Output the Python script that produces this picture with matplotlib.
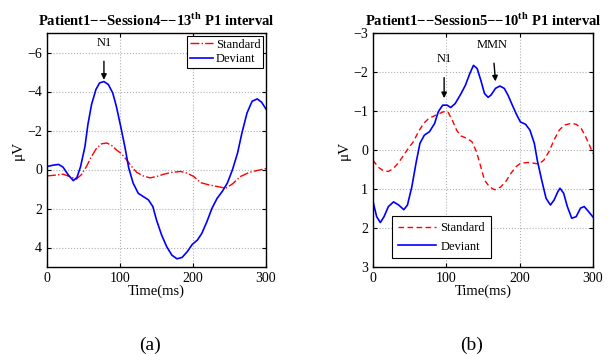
import matplotlib
matplotlib.use("Agg")
import matplotlib.pyplot as plt

plt.rcParams['font.family'] = ['Liberation Serif', 'DejaVu Serif']
plt.rcParams['mathtext.fontset'] = 'custom'
plt.rcParams['mathtext.rm'] = 'Liberation Serif'
plt.rcParams['mathtext.bf'] = 'Liberation Serif:bold'

# ---- panel (a) data: Patient1 Session4 ----
t_dev_a = [0, 8, 16, 22, 29, 36, 41, 46, 52, 56, 61, 67, 72, 78, 84, 90, 95,
           101, 107, 112, 118, 125, 132, 139, 145, 150, 157, 164, 171, 178,
           185, 192, 199, 206, 212, 219, 226, 233, 240, 247, 254, 261, 267,
           274, 281, 288, 294, 300]
v_dev_a = [-0.15, -0.22, -0.26, -0.12, 0.27, 0.57, 0.41, -0.15, -1.18, -2.3,
           -3.33, -4.1, -4.44, -4.51, -4.36, -3.93, -3.24, -2.2, -1.1, -0.07,
           0.7, 1.22, 1.39, 1.56, 1.9, 2.59, 3.36, 3.96, 4.39, 4.58, 4.51,
           4.22, 3.84, 3.62, 3.28, 2.68, 1.99, 1.48, 1.13, 0.7, 0.02, -0.84,
           -1.87, -2.9, -3.5, -3.62, -3.45, -3.1]
t_std_a = [0, 11, 22, 31, 40, 47, 54, 61, 68, 75, 82, 89, 95, 102, 109, 116,
           123, 132, 141, 150, 160, 171, 183, 192, 201, 210, 222, 233, 245,
           254, 265, 277, 288, 300]
v_std_a = [0.33, 0.29, 0.24, 0.36, 0.5, 0.27, -0.15, -0.67, -1.1, -1.32,
           -1.36, -1.22, -1.01, -0.81, -0.5, -0.15, 0.15, 0.33, 0.43, 0.36,
           0.24, 0.15, 0.1, 0.19, 0.36, 0.67, 0.79, 0.87, 0.96, 0.74, 0.36,
           0.15, 0.05, -0.05]

# ---- panel (b) data: Patient1 Session5 ----
t_dev_b = [0, 5, 10, 15, 21, 28, 35, 42, 47, 53, 59, 64, 70, 77, 84, 89, 95,
           101, 106, 112, 119, 126, 132, 137, 142, 147, 152, 157, 161, 167,
           173, 179, 184, 190, 196, 201, 208, 214, 220, 224, 230, 236, 242,
           247, 252, 255, 260, 265, 271, 277, 283, 288, 294, 300]
v_dev_b = [1.32, 1.71, 1.86, 1.71, 1.45, 1.33, 1.41, 1.53, 1.41, 0.94, 0.3,
           -0.17, -0.38, -0.47, -0.68, -0.98, -1.15, -1.15, -1.09, -1.19,
           -1.41, -1.66, -1.96, -2.17, -2.09, -1.79, -1.45, -1.35, -1.41,
           -1.58, -1.64, -1.58, -1.41, -1.15, -0.9, -0.72, -0.66, -0.51,
           -0.17, 0.26, 0.77, 1.24, 1.41, 1.28, 1.07, 0.98, 1.11, 1.45, 1.75,
           1.71, 1.49, 1.45, 1.58, 1.72]
t_std_b = [0, 7, 14, 21, 28, 35, 42, 48, 55, 62, 69, 76, 83, 89, 96, 102, 108,
           114, 120, 128, 135, 141, 147, 152, 159, 166, 174, 181, 188, 195,
           201, 211, 220, 226, 233, 240, 247, 254, 261, 270, 277, 284, 290,
           295, 300]
v_std_b = [0.26, 0.44, 0.53, 0.55, 0.47, 0.32, 0.13, -0.04, -0.21, -0.47,
           -0.68, -0.81, -0.87, -0.92, -0.98, -0.98, -0.77, -0.51, -0.36,
           -0.3, -0.21, 0.04, 0.43, 0.77, 0.95, 1.02, 0.95, 0.81, 0.6, 0.43,
           0.34, 0.32, 0.34, 0.36, 0.26, 0.04, -0.26, -0.51, -0.64, -0.68,
           -0.66, -0.55, -0.34, -0.13, 0.09]

fig = plt.figure(figsize=(6.15, 3.55), dpi=100)
W, H = 615, 355
ax1 = fig.add_axes([47 / W, 1 - 267 / H, 219 / W, 234 / H])
ax2 = fig.add_axes([373 / W, 1 - 267 / H, 220 / W, 234 / H])


def style(ax, ylim, yticks):
    ax.set_xlim(0, 300)
    ax.set_ylim(ylim[1], ylim[0])  # negative up
    ax.set_xticks([0, 100, 200, 300])
    ax.set_yticks(yticks)
    ax.grid(True, color='#b0b0b0', linestyle=':', linewidth=0.8)
    ax.tick_params(direction='in', labelsize=10, length=3, top=True, right=True)
    for s in ax.spines.values():
        s.set_linewidth(1.0)
    ax.set_xlabel('Time(ms)', fontsize=10.5, labelpad=0)
    ax.set_ylabel('μV', fontsize=11, labelpad=2)


arrow = dict(arrowstyle='-|>', color='black', lw=1.0, shrinkA=7, shrinkB=0,
             mutation_scale=8)

ax1.plot(t_std_a, v_std_a, color='red', linestyle='-.', linewidth=1.0, label='Standard')
ax1.plot(t_dev_a, v_dev_a, color='blue', linestyle='-', linewidth=1.2, label='Deviant')
style(ax1, (-7, 5), [-6, -4, -2, 0, 2, 4])
ax1.set_title('Patient1\u2212\u2212Session4\u2212\u221213$^{\\mathbf{th}}$ P1 interval',
              fontsize=10.5, fontweight='bold', pad=5)
ax1.annotate('N1', xy=(78, -4.6), xytext=(78, -6.5), ha='center', va='center',
             fontsize=9, arrowprops=arrow)
leg1 = ax1.legend(loc='upper right', fontsize=9, fancybox=False, edgecolor='black',
                  framealpha=1, borderpad=0.2, labelspacing=0.2, handlelength=1.9,
                  handletextpad=0.2, borderaxespad=0.25)
leg1.get_frame().set_linewidth(0.8)

ax2.plot(t_std_b, v_std_b, color='red', linestyle=(0, (4, 2.5)), linewidth=1.0,
         label='Standard')
ax2.plot(t_dev_b, v_dev_b, color='blue', linestyle='-', linewidth=1.2, label='Deviant')
style(ax2, (-3, 3), [-3, -2, -1, 0, 1, 2, 3])
ax2.set_title('Patient1\u2212\u2212Session5\u2212\u221210$^{\\mathbf{th}}$ P1 interval',
              fontsize=10.5, fontweight='bold', pad=5)
ax2.annotate('N1', xy=(97, -1.33), xytext=(97, -2.33), ha='center', va='center',
             fontsize=9, arrowprops=arrow)
ax2.annotate('MMN', xy=(167, -1.76), xytext=(163, -2.7), ha='center', va='center',
             fontsize=9, arrowprops=arrow)
leg2 = ax2.legend(loc='lower left', bbox_to_anchor=(0.06, 0.01), fontsize=9,
                  fancybox=False, edgecolor='black', framealpha=1, borderpad=0.45,
                  labelspacing=0.55, handlelength=3.0, handletextpad=0.4)
leg2.get_frame().set_linewidth(0.8)

fig.text(150 / W, 1 - 345 / H, '(a)', ha='center', va='center', fontsize=14)
fig.text(472 / W, 1 - 345 / H, '(b)', ha='center', va='center', fontsize=14)

fig.savefig('out.png', dpi=100)
